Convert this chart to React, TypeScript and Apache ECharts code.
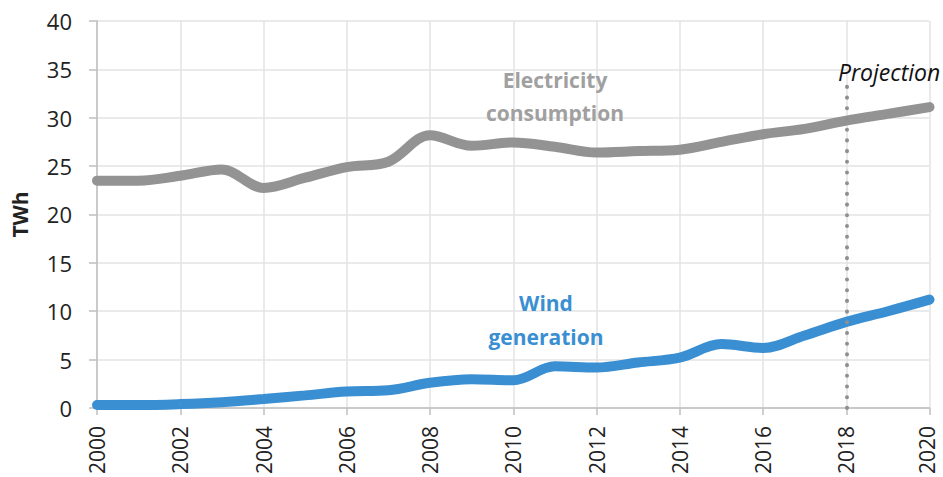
import React, { useEffect, useRef } from "react";
import * as echarts from "echarts";

// Years on the horizontal axis (value axis, ticks every 2 years)
const years: number[] = [
  2000, 2001, 2002, 2003, 2004, 2005, 2006, 2007, 2008, 2009, 2010,
  2011, 2012, 2013, 2014, 2015, 2016, 2017, 2018, 2019, 2020,
];

// Electricity consumption, TWh
const consumption: number[] = [
  23.5, 23.5, 24.0, 24.65, 22.75, 23.8, 24.9, 25.45, 28.2, 27.1, 27.45,
  27.0, 26.4, 26.55, 26.7, 27.5, 28.3, 28.85, 29.7, 30.4, 31.1,
];

// Wind generation, TWh
const wind: number[] = [
  0.3, 0.3, 0.4, 0.6, 0.93, 1.3, 1.7, 1.83, 2.6, 2.97, 2.86,
  4.3, 4.18, 4.7, 5.2, 6.6, 6.2, 7.5, 8.9, 10.0, 11.2,
];

const projectionYear = 2018;
const projectionTop = 34.1;

const FONT = "'Open Sans', 'Noto Sans', sans-serif";
const GRAY = "#939393";
const BLUE = "#3a8fd2";

export default function App() {
  const ref = useRef<HTMLDivElement>(null);

  useEffect(() => {
    if (!ref.current) return;
    const chart = echarts.init(ref.current, undefined, { renderer: "svg" });
    const lastYear = years[years.length - 1];

    chart.setOption({
      animation: false,
      backgroundColor: "#ffffff",
      grid: { left: 97, right: 12, top: 21, bottom: 69, containLabel: false },
      xAxis: {
        type: "value",
        min: 2000,
        max: 2020,
        interval: 2,
        axisLine: { show: true, lineStyle: { color: "#bfbfbf", width: 1.5 } },
        axisTick: { show: true, length: 7, lineStyle: { color: "#bfbfbf", width: 1.5 } },
        axisLabel: {
          rotate: 90,
          margin: 18,
          color: "#222",
          fontSize: 21,
          lineHeight: 20,
          fontFamily: FONT,
          // the last year sits at the right edge, so nudge it inward a little
          formatter: (v: number) => (v === lastYear ? `{edge|${v}}` : String(v)),
          rich: {
            edge: { fontSize: 21, lineHeight: 20, fontFamily: FONT, color: "#222", padding: [0, 0, 6, 0] },
          },
        },
        splitLine: { show: true, lineStyle: { color: "#e3e3e3", width: 1.5 } },
      },
      yAxis: {
        type: "value",
        min: 0,
        max: 40,
        interval: 5,
        name: "TWh",
        nameLocation: "middle",
        nameGap: 67,
        nameTextStyle: { color: "#222", fontSize: 21, fontWeight: "bold", fontFamily: FONT },
        axisLine: { show: true, lineStyle: { color: "#bfbfbf", width: 1.5 } },
        axisTick: { show: true, length: 8, lineStyle: { color: "#bfbfbf", width: 1.5 } },
        axisLabel: { margin: 25, color: "#222", fontSize: 22, fontFamily: FONT },
        splitLine: { show: true, lineStyle: { color: "#e3e3e3", width: 1.5 } },
      },
      series: [
        {
          name: "Electricity consumption",
          type: "line",
          smooth: 0.35,
          symbol: "none",
          lineStyle: { color: GRAY, width: 10, cap: "round" },
          data: years.map((y, i) => [y, consumption[i]]),
          z: 3,
          markLine: {
            silent: true,
            symbol: "none",
            label: { show: false },
            lineStyle: { color: "#8f8f8f", width: 4, type: [0.1, 10.6], cap: "round" },
            data: [[{ coord: [projectionYear, 0] }, { coord: [projectionYear, projectionTop] }]],
          },
        },
        {
          name: "Wind generation",
          type: "line",
          smooth: 0.35,
          symbol: "none",
          lineStyle: { color: BLUE, width: 10, cap: "round" },
          data: years.map((y, i) => [y, wind[i]]),
          z: 4,
        },
      ],
      graphic: [
        {
          type: "text",
          x: 838,
          y: 72,
          z: 100,
          style: {
            text: "Projection",
            fill: "#111",
            font: `italic 23px ${FONT}`,
            verticalAlign: "middle",
          },
        },
        {
          type: "text",
          x: 555,
          y: 63,
          z: 100,
          style: {
            text: "Electricity\nconsumption",
            fill: "#a0a0a0",
            font: `bold 21px ${FONT}`,
            align: "center",
            verticalAlign: "top",
            lineHeight: 33,
          },
        },
        {
          type: "text",
          x: 546,
          y: 286,
          z: 100,
          style: {
            text: "Wind\ngeneration",
            fill: BLUE,
            font: `bold 21px ${FONT}`,
            align: "center",
            verticalAlign: "top",
            lineHeight: 34,
          },
        },
      ],
    });

    return () => chart.dispose();
  }, []);

  return <div ref={ref} style={{ width: 943, height: 477, position: "absolute", left: 0, top: 0 }} />;
}
